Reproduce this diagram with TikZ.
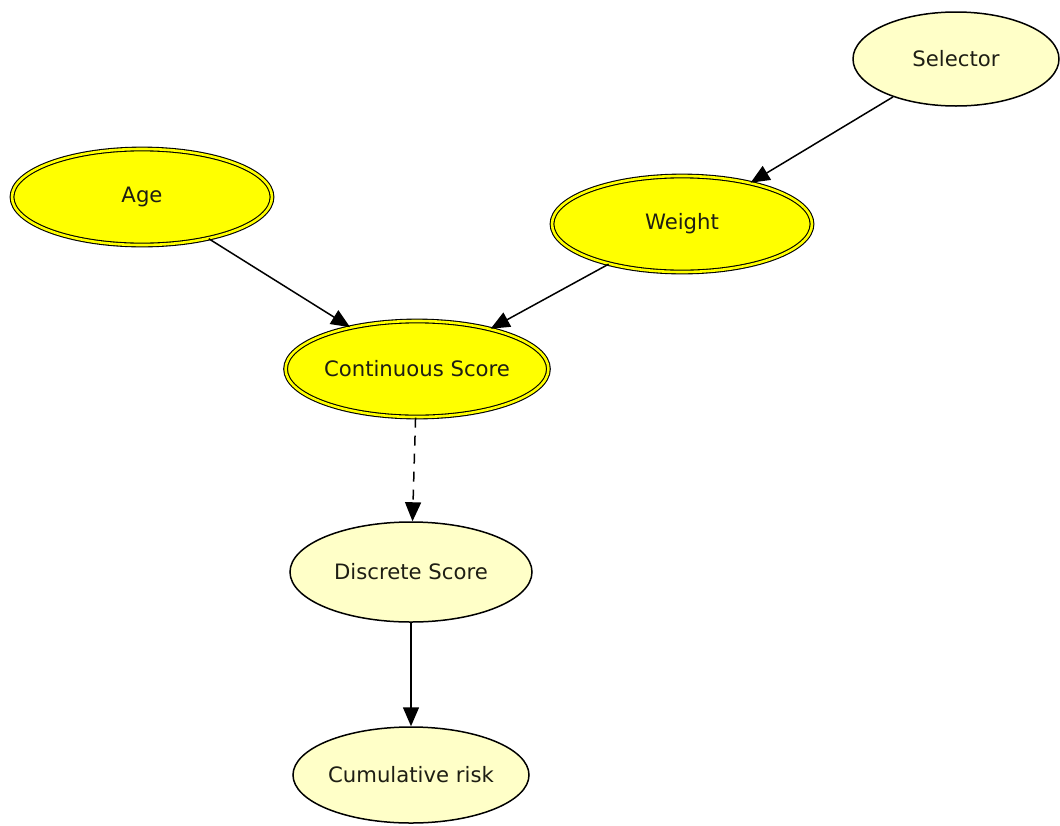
\documentclass[tikz,border=0pt]{standalone}
\usepackage{fontspec}
\setmainfont{DejaVu Sans}
\usetikzlibrary{arrows.meta,shapes.geometric,positioning}
\definecolor{palefill}{RGB}{255,255,200}
\definecolor{strongfill}{RGB}{255,255,0}
\definecolor{inktext}{RGB}{30,30,20}
\tikzset{every picture/.style={line width=0.75pt}}

\begin{document}
\begin{tikzpicture}[x=0.5pt, y=-0.5pt,
    plainvar/.style={ellipse, draw, fill=palefill, inner sep=0pt, text=inktext,
        font=\fontsize{10.6}{12}\selectfont},
    keyvar/.style={ellipse, draw, double=strongfill, double distance=1.3pt, line width=0.55pt,
        fill=strongfill, inner sep=0pt, minimum width=130pt, minimum height=48pt, text=inktext,
        font=\fontsize{10.6}{12}\selectfont},
    link/.style={-{Triangle[length=9.5pt, width=8pt]}, line width=0.75pt}]
    \useasboundingbox (0,0) rectangle (1060,825);
    % bovenste rij
    \node[plainvar, minimum width=103pt, minimum height=47pt] (selector) at (956,59) {Selector};
    \node[keyvar] (age) at (142,197) {Age};
    \node[keyvar] (weight) at (682,224) {Weight};
    % score
    \node[keyvar] (cscore) at (417,369) {Continuous Score};
    \node[plainvar, minimum width=121pt, minimum height=50pt] (dscore) at (411,572) {Discrete Score};
    \node[plainvar, minimum width=118pt, minimum height=48pt] (risk) at (411,775) {Cumulative risk};
    % pijlen
    \draw[link] (selector) -- (weight);
    \draw[link] (age) -- (cscore);
    \draw[link] (weight) -- (cscore);
    \draw[link, dash pattern=on 5pt off 4pt] (cscore) -- (dscore);
    \draw[link] (dscore) -- (risk);
\end{tikzpicture}
\end{document}
